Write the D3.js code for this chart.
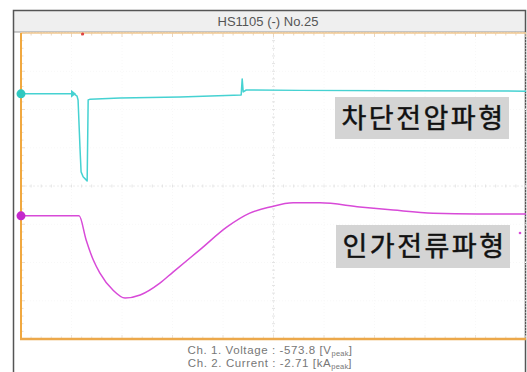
<!DOCTYPE html>
<html><head><meta charset="utf-8">
<script src="https://cdn.jsdelivr.net/npm/d3@7"></script>
<style>html,body{margin:0;padding:0;background:#fff;}svg{display:block;}</style>
</head><body>
<svg id="c" width="527" height="372"></svg>
<script>
// Data (time and amplitude in oscilloscope divisions)
const voltTime = [0, 1.05, 1.11, 1.13, 1.17, 1.19, 1.23, 1.29, 1.31, 1.33, 1.37, 1.96, 3.15, 4.36, 4.38, 4.40, 4.46, 5.52, 7.5, 10];
const voltDiv  = [2.41, 2.41, 2.35, 2.25, 0.94, 0.37, 0.24, 0.16, 0.13, 2.25, 2.27, 2.30, 2.33, 2.38, 2.80, 2.46, 2.51, 2.50, 2.49, 2.48];
const currTime = [0, 1.15, 1.29, 1.43, 1.56, 1.82, 2.06, 2.36, 2.75, 3.01, 3.54, 4.08, 4.53, 4.93, 5.39, 5.92, 6.71, 7.37, 8.16, 9.03, 10];
const currDiv  = [-0.78, -0.78, -1.41, -1.93, -2.27, -2.72, -2.93, -2.85, -2.54, -2.25, -1.67, -1.07, -0.71, -0.55, -0.44, -0.44, -0.55, -0.63, -0.71, -0.73, -0.73];
const titleText = "HS1105 (-) No.25";
const labels = ["차단전압파형", "인가전류파형"];
const infoLines = [["Ch. 1. Voltage : -573.8 [V", "peak", "]"], ["Ch. 2. Current : -2.71 [kA", "peak", "]"]];
const xDivs = d3.range(0, 11);
const yDivs = d3.range(-4, 5);

const svg = d3.select("#c");
const L = 21, R = 526, T = 33, B = 339;
const x = d3.scaleLinear().domain([0, 10]).range([L, R]);
const y = d3.scaleLinear().domain([-4, 4]).range([B, T]);

// outer frame + title bar
svg.append("rect").attr("x", 13).attr("y", 10).attr("width", 513).attr("height", 22).attr("fill", "#efefef");
svg.append("line").attr("x1", 13).attr("x2", 526).attr("y1", 32).attr("y2", 32).attr("stroke", "#999").attr("stroke-width", 1);
svg.append("path").attr("d", `M13.5,380V10.5H525.5V380`).attr("fill", "none").attr("stroke", "#555").attr("stroke-width", 1.5);
svg.append("text").attr("x", 268).attr("y", 26).attr("text-anchor", "middle")
  .attr("font-family", "Liberation Sans, Arial, sans-serif").attr("font-size", 13).attr("fill", "#555").text(titleText);

// faint grid
const g = svg.append("g");
g.selectAll(".vg").data(xDivs).join("line").attr("x1", d => x(d)).attr("x2", d => x(d)).attr("y1", T).attr("y2", B)
  .attr("stroke", d => d === 5 ? "#ececec" : "#f8f8f8").attr("stroke-width", 1).attr("stroke-dasharray", d => d === 5 ? "2,2" : "1,2");
g.selectAll(".hg").data(yDivs).join("line").attr("x1", L).attr("x2", R).attr("y1", d => y(d)).attr("y2", d => y(d))
  .attr("stroke", d => d === 0 ? "#ececec" : "#f8f8f8").attr("stroke-width", 1).attr("stroke-dasharray", d => d === 0 ? "2,2" : "1,2");
// minor ticks on center axes and edges
const xMinor = d3.range(0, 50.01, 1).map(d => d / 5);
const yMinor = d3.range(-20, 20.01, 1).map(d => d / 5);
g.selectAll(".xm").data(xMinor).join("line").attr("x1", d => x(d)).attr("x2", d => x(d))
  .attr("y1", y(0) - 1.5).attr("y2", y(0) + 1.5).attr("stroke", "#e4e4e4");
g.selectAll(".ym").data(yMinor).join("line").attr("y1", d => y(d)).attr("y2", d => y(d))
  .attr("x1", x(5) - 1.5).attr("x2", x(5) + 1.5).attr("stroke", "#e4e4e4");
g.selectAll(".xt").data(xMinor).join("line").attr("x1", d => x(d)).attr("x2", d => x(d))
  .attr("y1", T).attr("y2", d => T + (Math.abs(d - Math.round(d)) < 1e-6 ? 4 : 2.5)).attr("stroke", "#ead6c0");
g.selectAll(".xb").data(xMinor).join("line").attr("x1", d => x(d)).attr("x2", d => x(d))
  .attr("y1", B).attr("y2", d => B - (Math.abs(d - Math.round(d)) < 1e-6 ? 4 : 2.5)).attr("stroke", "#ebe4dc");
g.selectAll(".yl").data(yMinor).join("line").attr("y1", d => y(d)).attr("y2", d => y(d))
  .attr("x1", L).attr("x2", d => L + (Math.abs(d - Math.round(d)) < 1e-6 ? 4 : 2.5)).attr("stroke", "#ebdccc");

// orange plot borders
svg.append("line").attr("x1", L).attr("x2", R).attr("y1", T).attr("y2", T).attr("stroke", "#f2c890").attr("stroke-width", 1.5);
svg.append("line").attr("x1", L).attr("x2", L).attr("y1", T).attr("y2", B + 1).attr("stroke", "#f0a840").attr("stroke-width", 2);
svg.append("line").attr("x1", L - 1).attr("x2", R).attr("y1", B).attr("y2", B).attr("stroke", "#eca84a").attr("stroke-width", 2.5);
// trigger marker on top
svg.append("circle").attr("cx", x(1.22)).attr("cy", T + 1).attr("r", 1.6).attr("fill", "#e04040");

// traces
const cyan = "#46d2d2", magenta = "#d84ad8";
const lineV = d3.line().x(d => x(d[0])).y(d => y(d[1]));
svg.append("path").datum(d3.zip(voltTime, voltDiv)).attr("d", lineV)
  .attr("fill", "none").attr("stroke", cyan).attr("stroke-width", 1.5).attr("stroke-linejoin", "round");
const lineC = d3.line().x(d => x(d[0])).y(d => y(d[1])).curve(d3.curveMonotoneX);
svg.append("path").datum(d3.zip(currTime, currDiv)).attr("d", lineC)
  .attr("fill", "none").attr("stroke", magenta).attr("stroke-width", 1.5);

// channel markers
svg.append("circle").attr("cx", x(0)).attr("cy", y(voltDiv[0])).attr("r", 4.5).attr("fill", "#30c8c0");
svg.append("circle").attr("cx", x(0)).attr("cy", y(currDiv[0])).attr("r", 4.5).attr("fill", "#c428cc");
// trigger arrow on cyan
const ax = x(voltTime[1]), ay = y(voltDiv[1]);
svg.append("path").attr("d", `M${ax - 3},${ay - 4}L${ax + 2},${ay}L${ax - 3},${ay + 4}Z`).attr("fill", cyan);
// small magenta level marker at right
svg.append("circle").attr("cx", 520).attr("cy", 233).attr("r", 1.3).attr("fill", magenta);

// label boxes
const boxes = [{x: 335, y: 97, w: 174, h: 42}, {x: 336, y: 225, w: 174, h: 43}];
labels.forEach((t, i) => {
  const b = boxes[i];
  svg.append("rect").attr("x", b.x).attr("y", b.y).attr("width", b.w).attr("height", b.h).attr("fill", "#d4d4d4");
  svg.append("text").attr("x", b.x + b.w / 2 + 1.5).attr("y", b.y + 31).attr("text-anchor", "middle")
    .attr("font-family", "Noto Sans CJK KR, sans-serif").attr("font-size", 27).attr("font-weight", 400)
    .attr("stroke", "#111").attr("stroke-width", 0.5)
    .attr("letter-spacing", 2.5).attr("fill", "#111").text(t);
});

// info text
infoLines.forEach((parts, i) => {
  const t = svg.append("text").attr("x", 270).attr("y", 354 + i * 13).attr("text-anchor", "middle")
    .attr("font-family", "Liberation Sans, Arial, sans-serif").attr("font-size", 11.5).attr("letter-spacing", 0.6).attr("fill", "#777");
  t.append("tspan").text(parts[0]);
  t.append("tspan").attr("font-size", 7.5).attr("dy", 2).attr("letter-spacing", 0.2).text(parts[1]);
  t.append("tspan").attr("dy", -2).text(parts[2]);
});
</script>
</body></html>
